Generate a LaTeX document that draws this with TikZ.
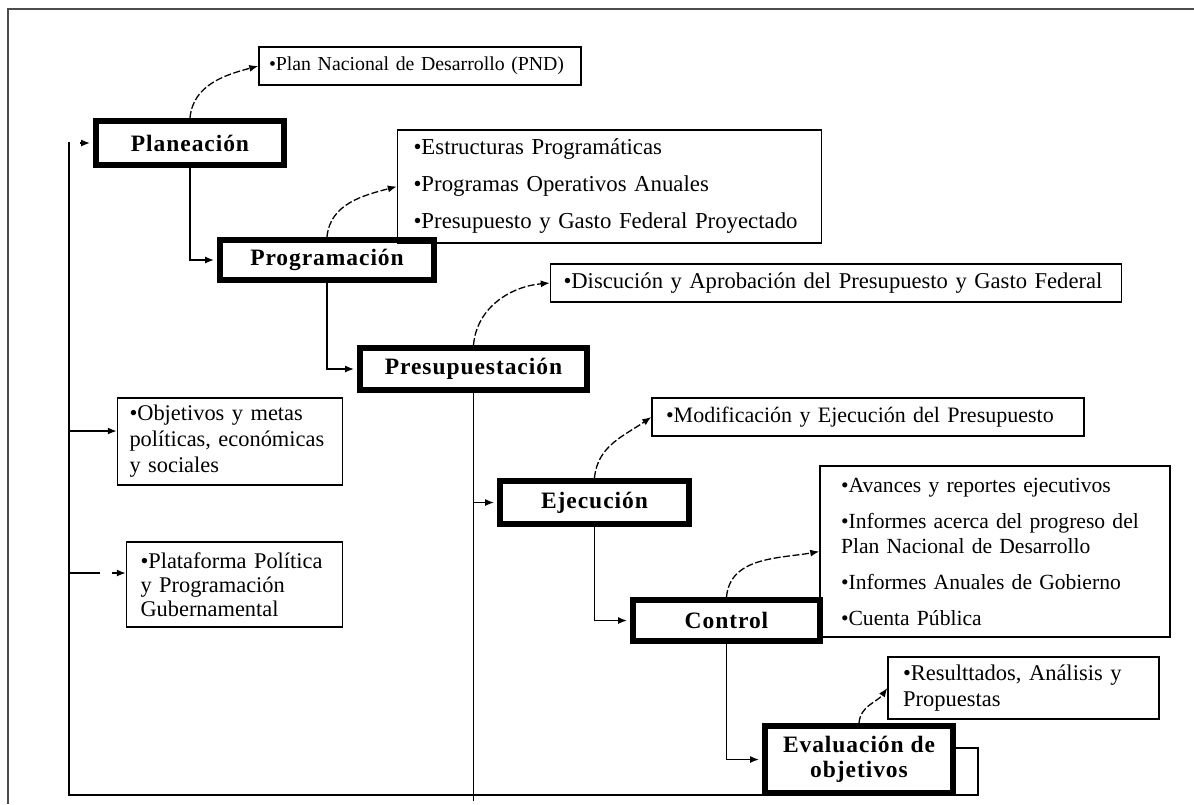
\documentclass[tikz,border=0pt]{standalone}
\usepackage{fontspec}
\setmainfont{Liberation Serif}
\newfontfamily\widefont[LetterSpace=4]{Liberation Serif}
\usetikzlibrary{arrows.meta, calc}

\begin{document}
\begin{tikzpicture}[x=1pt, y=-1pt,
	>={Latex[length=9pt, width=7pt]},
	stage/.style={draw, line width=6pt, inner sep=0pt, align=center,
		font=\widefont\bfseries\fontsize{23.5}{25}\selectfont},
	outline/.style={draw, line width=1.5pt, inner ysep=0pt, align=left},
	feed/.style={line width=1.3pt, ->, shorten >=3pt},
	link/.style={line width=1.3pt, ->},
	note/.style={line width=1.3pt, ->, dash pattern=on 7pt off 2.5pt}]

	\useasboundingbox (0,0) rectangle (1194,804);
	\draw[line width=2pt, gray!60!black] (8,804) -- (8,9) -- (1194,9);

	% stages
	\node[stage, minimum width=188pt, minimum height=44pt] (plan) at (190,143) {Planeación};
	\node[stage, minimum width=214pt, minimum height=40pt] (prog) at (327,260) {Programación};
	\node[stage, minimum width=227pt, minimum height=42pt] (pres) at (473.5,369) {Presupuestación};
	\node[stage, minimum width=189pt, minimum height=43pt] (ejec) at (594.5,502.5) {Ejecución};
	\node[stage, minimum width=187pt, minimum height=41pt] (ctrl) at (726.5,620.5) {Control};
	\node[stage, minimum width=188pt, minimum height=67pt] (eval) at (859,759.5) {Evaluación de\\ objetivos};

	% products
	\node[outline, font=\fontsize{19.8}{25}\selectfont, inner xsep=10pt, text width=302pt, minimum height=38pt] (pnd) at (420,66)
		{\textbullet Plan Nacional de Desarrollo (PND)};
	\node[outline, font=\fontsize{22.8}{37}\selectfont, inner xsep=16pt, text width=392pt, minimum height=113pt] (estr) at (609.5,186.5)
		{\textbullet Estructuras Programáticas\\ \textbullet Programas Operativos Anuales\\ \textbullet Presupuesto y Gasto Federal Proyectado};
	\node[outline, font=\fontsize{22.6}{25}\selectfont, inner xsep=13pt, text width=545pt, minimum height=38pt] (disc) at (836,283)
		{\textbullet Discución y Aprobación del Presupuesto y Gasto Federal};
	\node[outline, font=\fontsize{22.4}{26}\selectfont, inner xsep=12pt, text width=201pt, minimum height=87pt] (objt) at (230,441.5)
		{\textbullet Objetivos y metas\\ políticas, económicas\\ y sociales};
	\node[outline, font=\fontsize{22.4}{24}\selectfont, inner xsep=14pt, text width=188pt, minimum height=85pt] (plat) at (234.5,584.5)
		{\textbullet Plataforma Política\\ y Programación\\ Gubernamental};
	\node[outline, font=\fontsize{22}{25}\selectfont, inner xsep=14pt, text width=404pt, minimum height=38pt] (modi) at (868,417)
		{\textbullet Modificación y Ejecución del Presupuesto};
	\node[outline, font=\fontsize{21.6}{25}\selectfont, inner xsep=21pt, text width=308pt, minimum height=171pt] (avan) at (995,551.5)
		{\textbullet Avances y reportes ejecutivos\\[11pt] \textbullet Informes acerca del progreso del\\ Plan Nacional de Desarrollo\\[11pt]
		 \textbullet Informes Anuales de Gobierno\\[11pt] \textbullet Cuenta Pública};
	\node[outline, font=\fontsize{22.5}{26}\selectfont, inner xsep=15pt, text width=241pt, minimum height=62pt] (resu) at (1023.5,688)
		{\textbullet Resulttados, Análisis y\\ Propuestas};

	% main sequence
	\draw[feed] (plan.south) |- (prog.west);
	\draw[feed] (prog.south) |- (pres.west);
	\coordinate (presend) at (473.5,801);
	\draw[line width=1.3pt] (pres.south) -- (presend);
	\draw[feed] (pres.south |- ejec.west) -- (ejec.west);
	\draw[feed] (ejec.south) |- (ctrl.west);
	\draw[feed] (ctrl.south) |- (eval.west);

	% feedback loop
	\coordinate (loopA) at (978,795);
	\coordinate (loopB) at (69,142);
	\coordinate (planin) at (80,143);
	\draw[line width=1.3pt] ($(eval.east)+(-6,-11.5)$) -| (loopA) -| (loopB);
	\draw[feed] (planin) -- (plan.west);
	\coordinate (objin) at (69,431);
	\draw[link] (objin) -- (objin -| objt.west);
	\coordinate (platin) at (69,573);
	\draw[line width=1.3pt] (platin) -- ++(31,0);
	\draw[link] ($(platin)+(43,0)$) -- (platin -| plat.west);

	% products of each stage
	\draw[note] (plan.north) to[out=85, in=195] (pnd.west);
	\draw[note] (prog.north) to[out=85, in=195] (estr.west);
	\draw[note] (pres.north) to[out=85, in=185] (disc.west);
	\draw[note] (ejec.north) to[out=85, in=215] (modi.west);
	\draw[note] (ctrl.north) to[out=85, in=190] (avan.west);
	\draw[note] (eval.north) to[out=85, in=235] (resu.west);

\end{tikzpicture}
\end{document}
